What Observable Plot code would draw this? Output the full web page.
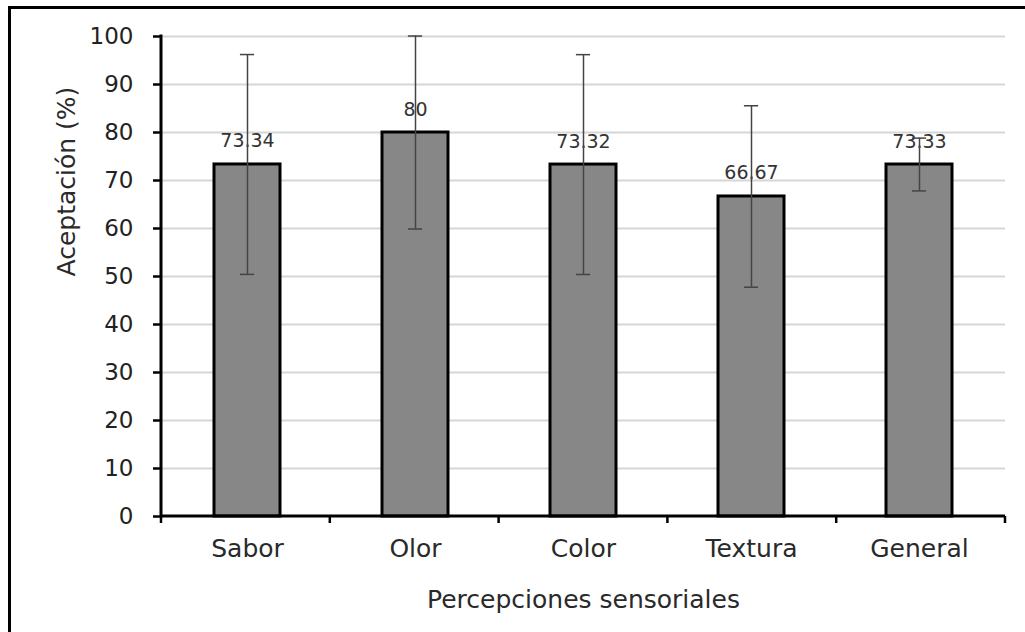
<!DOCTYPE html>
<html><head><meta charset="utf-8">
<script src="https://cdn.jsdelivr.net/npm/d3@7"></script>
<script src="https://cdn.jsdelivr.net/npm/@observablehq/plot@0.6"></script>
<style>
html,body{margin:0;padding:0;background:#fff;overflow:hidden;width:1025px;height:632px}
#chart{position:absolute;left:0;top:0}
#frame{position:absolute;left:8px;top:6px;width:1100px;height:700px;border:3px solid #000;box-sizing:border-box;pointer-events:none}
</style></head>
<body><div id="chart"></div><div id="frame"></div>
<script>
const categories = ["Sabor", "Olor", "Color", "Textura", "General"];
const values = [73.34, 80, 73.32, 66.67, 73.33];
const valueLabels = ["73.34", "80", "73.32", "66.67", "73.33"];
const errors = [22.9, 20.1, 22.9, 18.9, 5.5];
const yTicks = [0, 10, 20, 30, 40, 50, 60, 70, 80, 90, 100];
const xTitle = "Percepciones sensoriales";
const yTitle = "Aceptación (%)";

const data = categories.map((c, i) => ({
  cat: c, value: values[i], label: valueLabels[i],
  lo: values[i] - errors[i], hi: values[i] + errors[i]
}));

const font = "'DejaVu Sans', sans-serif";
const pad = 0.61;
const capHalf = 7;

function axisDecor(index, scales, values, dims) {
  const {width, height, marginLeft, marginRight, marginTop, marginBottom} = dims;
  const x0 = marginLeft, x1 = width - marginRight, y0 = scales.y(0), yTop = scales.y(100);
  const step = (x1 - x0) / categories.length;
  const g = d3.create("svg:g");
  g.append("line").attr("x1", x0).attr("x2", x1).attr("y1", y0).attr("y2", y0)
    .attr("stroke", "#000").attr("stroke-width", 3);
  g.append("line").attr("x1", x0).attr("x2", x0).attr("y1", yTop - 1.5).attr("y2", y0 + 1.5)
    .attr("stroke", "#000").attr("stroke-width", 3);
  for (let i = 0; i <= categories.length; i++) {
    const xx = x0 + i * step;
    g.append("line").attr("x1", xx).attr("x2", xx).attr("y1", y0).attr("y2", y0 + 7)
      .attr("stroke", "#000").attr("stroke-width", 2.5);
  }
  return g.node();
}

const chart = Plot.plot({
  width: 1025, height: 632,
  marginLeft: 161, marginRight: 20, marginTop: 36, marginBottom: 116,
  style: {fontFamily: font, background: "#fff", color: "#222", overflow: "visible"},
  x: {domain: categories, paddingInner: pad, paddingOuter: pad / 2, label: null},
  y: {domain: [0, 100], label: null},
  marks: [
    Plot.ruleY(yTicks.filter(d => d > 0), {y: d => d, stroke: "#d6d6d6", strokeWidth: 2}),
    Plot.axisY({ticks: yTicks, tickSize: 8, tickPadding: 20, stroke: "#000", strokeWidth: 2.5,
      fontSize: 23, fill: "#222", label: null}),
    Plot.axisX({tickSize: 0, tickPadding: 23, fontSize: 25, fill: "#2a2a2a", label: null}),
    Plot.barY(data, {x: "cat", y: "value", fill: "#878787", stroke: "#000", strokeWidth: 3}),
    Plot.text(data, {x: "cat", y: "value", text: "label", dy: -17, lineAnchor: "bottom",
      fontSize: 19, fill: "#333"}),
    Plot.ruleX(data, {x: "cat", y1: "lo", y2: "hi", stroke: "#444", strokeWidth: 1.5}),
    Plot.tickY(data, {x: "cat", y: "hi", stroke: "#444", strokeWidth: 1.5,
      insetLeft: 168.8 * (1 - pad) / 2 - capHalf, insetRight: 168.8 * (1 - pad) / 2 - capHalf}),
    Plot.tickY(data, {x: "cat", y: "lo", stroke: "#444", strokeWidth: 1.5,
      insetLeft: 168.8 * (1 - pad) / 2 - capHalf, insetRight: 168.8 * (1 - pad) / 2 - capHalf}),
    axisDecor,
    Plot.text([xTitle], {frameAnchor: "bottom", dy: 83, lineAnchor: "middle",
      fontSize: 25, fill: "#2a2a2a", text: d => d}),
    Plot.text([yTitle], {frameAnchor: "left", dx: -95, rotate: -90, lineAnchor: "middle",
      fontSize: 25, fill: "#2a2a2a", text: d => d})
  ]
});
document.getElementById("chart").appendChild(chart);
</script>
</body></html>
